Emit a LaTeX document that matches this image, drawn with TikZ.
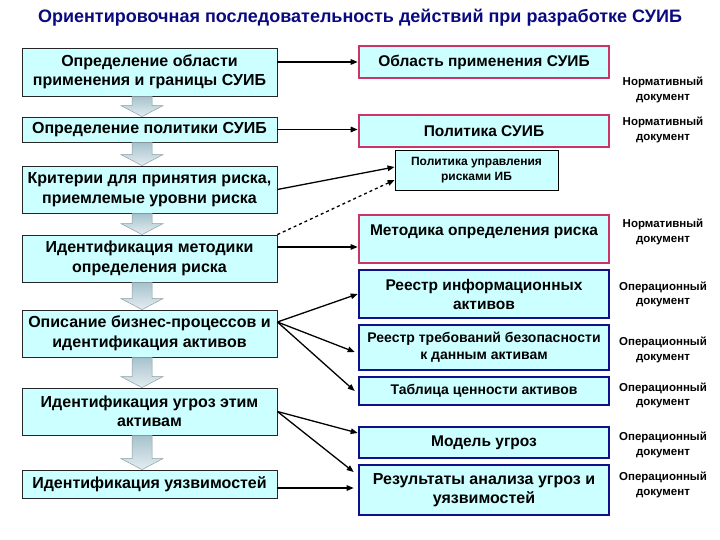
\documentclass[tikz,border=0pt]{standalone}
\usepackage{fontspec}
\setmainfont{Liberation Sans}
\usetikzlibrary{calc,arrows.meta}
\definecolor{boxfill}{HTML}{CCFFFF}
\definecolor{pinkb}{HTML}{CC3366}
\definecolor{blueb}{HTML}{10108C}
\definecolor{titlec}{HTML}{0A0A80}
\definecolor{arrtop}{HTML}{A6C2CC}
\definecolor{arrbot}{HTML}{E4EEF1}
\definecolor{arrline}{HTML}{8C9DA4}
\newcommand\lfnt{\bfseries\fontsize{16bp}{19.5bp}\selectfont}
\newcommand\rfnt{\bfseries\fontsize{15.5bp}{19bp}\selectfont}
\newcommand\blockarr[2]{\draw[arrowbody] let \p1=(#1.south), \p2=(#2.north) in
 (\x1-17.5bp,\y1) -- (\x1+2.5bp,\y1) -- (\x1+2.5bp,\y2+11bp) -- (\x1+13.5bp,\y2+11bp)
 -- (\x1-7.5bp,\y2) -- (\x1-28.5bp,\y2+11bp) -- (\x1-17.5bp,\y2+11bp) -- cycle;}
\tikzset{
 lbox/.style={draw=black!85, line width=0.8bp, fill=boxfill, minimum width=255bp, align=center, inner sep=2bp, font=\lfnt},
 pbox/.style={draw=pinkb, line width=2.6bp, fill=boxfill, minimum width=250bp, align=center, inner sep=2bp, font=\rfnt},
 bbox/.style={draw=blueb, line width=2.6bp, fill=boxfill, minimum width=250bp, align=center, inner sep=2bp, font=\rfnt},
 note/.style={align=center, font=\bfseries\fontsize{11.5bp}{14.5bp}\selectfont},
 conn/.style={line width=1.3bp, -{Triangle[length=7bp,width=5.5bp]}},
 arrowbody/.style={draw=arrline, line width=0.5bp, top color=arrtop, bottom color=arrbot}
}
\begin{document}
\begin{tikzpicture}[x=1bp,y=-1bp]
\useasboundingbox[fill=white] (0,0) rectangle (720,540);
\node[font=\bfseries\fontsize{18bp}{21bp}\selectfont, text=titlec] (title) at (360,18) {Ориентировочная последовательность действий при разработке СУИБ};

% left column
\node[lbox, minimum height=48bp] (L1) at (149.5,72) {Определение области\\применения и границы СУИБ};
\node[lbox, minimum height=25bp] (L2) at (149.5,129.5) {Определение политики СУИБ};
\node[lbox, minimum height=47bp] (L3) at (149.5,189.5) {Критерии для принятия риска,\\приемлемые уровни риска};
\node[lbox, minimum height=47bp] (L4) at (149.5,258.5) {Идентификация методики\\определения риска};
\node[lbox, minimum height=47bp] (L5) at (149.5,333.5) {Описание бизнес-процессов и\\идентификация активов};
\node[lbox, minimum height=47bp] (L6) at (149.5,411.5) {Идентификация угроз этим\\активам};
\node[lbox, minimum height=28bp] (L7) at (149.5,484) {Идентификация уязвимостей};

% right column
\node[pbox, minimum height=32bp] (R1) at (484,62) {Область применения СУИБ};
\node[pbox, minimum height=32bp] (R2) at (484,131) {Политика СУИБ};
\node[draw=black, line width=0.9bp, fill=boxfill, minimum width=163bp, minimum height=40bp, align=center, font=\bfseries\fontsize{12bp}{15bp}\selectfont] (R3) at (476.5,170) {Политика управления\\рисками ИБ};
\node[pbox, minimum height=48bp] (R4) at (484,239) {Методика определения риска\\[-8bp]\strut};
\node[bbox, minimum height=48bp] (R5) at (484,294) {Реестр информационных\\активов};
\node[bbox, minimum height=45bp, font=\bfseries\fontsize{14bp}{17bp}\selectfont] (R6) at (484,347.5) {Реестр требований безопасности\\к данным активам};
\node[bbox, minimum height=28bp, font=\bfseries\fontsize{14bp}{17bp}\selectfont] (R7) at (484,391) {Таблица ценности активов};
\node[bbox, minimum height=31bp] (R8) at (484,442.5) {Модель угроз};
\node[bbox, minimum height=50bp, font=\bfseries\fontsize{16bp}{19bp}\selectfont] (R9) at (484,490) {Результаты анализа угроз и\\уязвимостей};

% notes
\node[note] (N1) at (663,90) {Нормативный\\документ};
\node[note] (N2) at (663,130) {Нормативный\\документ};
\node[note] (N3) at (663,232) {Нормативный\\документ};
\node[note] (N4) at (663,294.5) {Операционный\\документ};
\node[note] (N5) at (663,350) {Операционный\\документ};
\node[note] (N6) at (663,395.5) {Операционный\\документ};
\node[note] (N7) at (663,445) {Операционный\\документ};
\node[note] (N8) at (663,485) {Операционный\\документ};

% block arrows
\blockarr{L1}{L2}
\blockarr{L2}{L3}
\blockarr{L3}{L4}
\blockarr{L4}{L5}
\blockarr{L5}{L6}
\blockarr{L6}{L7}

% connectors
\draw[conn] (L1.east |- R1.west) -- (R1.west);
\draw[conn] (L2.east) -- (L2.east -| R2.west);
\draw[conn] (L3.east) -- ([yshift=3bp]R3.west);
\draw[conn, dashed] (L4.north east) -- ([yshift=-10bp]R3.west);
\coordinate (c4) at ([yshift=11.5bp]L4.east);
\draw[conn] (c4) -- (c4 -| R4.west);
\coordinate (c5) at ([yshift=11.5bp]L5.east);
\draw[conn] (c5) -- (R5.west);
\draw[conn] (c5) -- ([yshift=-4.5bp,xshift=-3bp]R6.west);
\draw[conn] (c5) -- ([xshift=-3bp]R7.west);
\coordinate (c6) at (L6.east);
\draw[conn] (c6) -- ([yshift=9.5bp]R8.west);
\draw[conn] (c6) -- ([yshift=18bp,xshift=-4bp]R9.west);
\coordinate (c7) at ([yshift=-4bp]L7.east);
\draw[conn] (c7) -- ([xshift=-4bp]c7 -| R9.west);
\end{tikzpicture}
\end{document}
